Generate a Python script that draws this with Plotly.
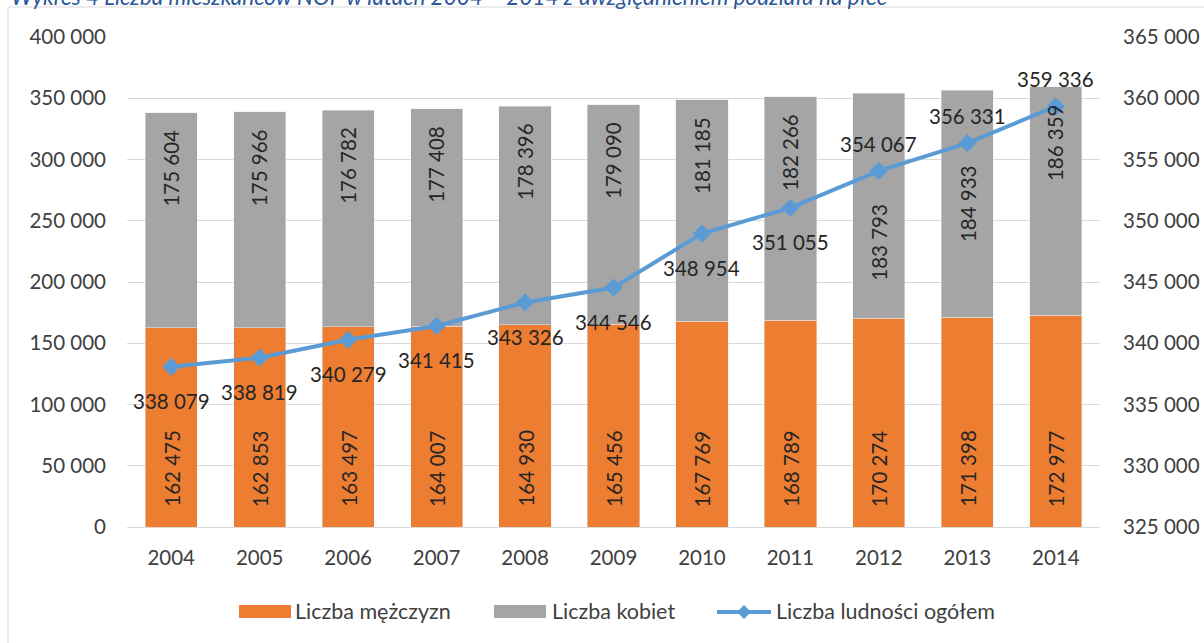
import plotly.graph_objects as go

years = ["2004", "2005", "2006", "2007", "2008", "2009", "2010", "2011", "2012", "2013", "2014"]
men = [162475, 162853, 163497, 164007, 164930, 165456, 167769, 168789, 170274, 171398, 172977]
women = [175604, 175966, 176782, 177408, 178396, 179090, 181185, 182266, 183793, 184933, 186359]
total = [338079, 338819, 340279, 341415, 343326, 344546, 348954, 351055, 354067, 356331, 359336]

# label placement (as in the source chart)
total_label_side = ["below"] * 8 + ["above"] * 3
women_label_place = ["end"] * 8 + ["low", "middle", "end"]

series_names = ["Liczba mężczyzn", "Liczba kobiet", "Liczba ludności ogółem"]
title_text = "Wykres 4 Liczba mieszkańców NOF w latach 2004 – 2014 z uwzględnieniem podziału na płeć"

ORANGE, GREY, BLUE = "#ED7D31", "#A5A5A5", "#5B9BD5"
TXT = "#404040"
LBL = "#262626"
FONT = "Lato"
FS = 20.5

def fmt(v):
    return f"{v:,}".replace(",", " ")

W, H = 1204, 643
L, R, T, B = 127, 104, 37, 116
pw, ph = W - L - R, H - T - B

def px_x(p):
    return (p - L) / pw

def px_y(p):
    return (H - B - p) / ph

fig = go.Figure()
fig.add_trace(go.Bar(x=years, y=men, name=series_names[0], marker_color=ORANGE,
                     showlegend=False, hoverinfo="y"))
fig.add_trace(go.Bar(x=years, y=women, name=series_names[1], marker_color=GREY,
                     showlegend=False, hoverinfo="y"))
fig.add_trace(go.Scatter(
    x=years, y=total, name=series_names[2], yaxis="y2", mode="lines+markers",
    line=dict(color=BLUE, width=4), marker=dict(symbol="diamond", size=14, color=BLUE),
    showlegend=False,
))

lblfont = dict(family=FONT, size=FS, color=LBL)

# men labels (inside base, rotated)
for i, v in enumerate(men):
    fig.add_annotation(x=i, y=0, xref="x", yref="y", text=fmt(v), textangle=-90,
                       yanchor="bottom", yshift=18, showarrow=False, font=lblfont)

# women labels
for i, (m, w, place) in enumerate(zip(men, women, women_label_place)):
    if place == "end":
        fig.add_annotation(x=i, y=m + w, xref="x", yref="y", text=fmt(w), textangle=-90,
                           yanchor="top", yshift=-15, showarrow=False, font=lblfont)
    else:
        fig.add_annotation(x=i, y=m + w / 2, xref="x", yref="y", text=fmt(w), textangle=-90,
                           yanchor="middle", yshift=(-36 if place == "low" else 0),
                           showarrow=False, font=lblfont)

# total labels
for i, (v, side) in enumerate(zip(total, total_label_side)):
    fig.add_annotation(x=i, xref="x", y=v, yref="y2", text=fmt(v), showarrow=False,
                       yshift=27 if side == "above" else -34, font=lblfont)

# clipped title at very top
fig.add_annotation(xref="paper", yref="paper", x=px_x(9), y=px_y(12),
                   xanchor="left", yanchor="bottom", text="<i>" + title_text + "</i>",
                   showarrow=False, font=dict(family=FONT, size=22.5, color="#2B579A"))

# chart border
fig.add_shape(type="rect", xref="paper", yref="paper",
              x0=px_x(8), x1=px_x(1215), y0=px_y(650), y1=px_y(7),
              line=dict(color="#D9D9D9", width=1), fillcolor="rgba(0,0,0,0)", layer="below")

# custom legend (wide swatches like the source)
leg_y = 611
legfont = dict(family=FONT, size=21.5, color=TXT)
fig.add_shape(type="rect", xref="paper", yref="paper", x0=px_x(239), x1=px_x(291),
              y0=px_y(618), y1=px_y(605), fillcolor=ORANGE, line=dict(width=0))
fig.add_annotation(xref="paper", yref="paper", x=px_x(293), y=px_y(leg_y), xanchor="left",
                   yanchor="middle", text=series_names[0], showarrow=False, font=legfont)
fig.add_shape(type="rect", xref="paper", yref="paper", x0=px_x(494), x1=px_x(546),
              y0=px_y(618), y1=px_y(605), fillcolor=GREY, line=dict(width=0))
fig.add_annotation(xref="paper", yref="paper", x=px_x(550), y=px_y(leg_y), xanchor="left",
                   yanchor="middle", text=series_names[1], showarrow=False, font=legfont)
fig.add_shape(type="line", xref="paper", yref="paper", x0=px_x(717), x1=px_x(771),
              y0=px_y(612), y1=px_y(612), line=dict(color=BLUE, width=4))
cx, cy, r = 744, 612, 7
fig.add_shape(type="path", xref="paper", yref="paper",
              path=f"M {px_x(cx - r)} {px_y(cy)} L {px_x(cx)} {px_y(cy - r)} L {px_x(cx + r)} {px_y(cy)} L {px_x(cx)} {px_y(cy + r)} Z",
              fillcolor=BLUE, line=dict(width=0))
fig.add_annotation(xref="paper", yref="paper", x=px_x(774), y=px_y(leg_y), xanchor="left",
                   yanchor="middle", text=series_names[2], showarrow=False, font=legfont)

fig.update_layout(
    width=W, height=H,
    margin=dict(l=L, r=R, t=T, b=B, autoexpand=False),
    barmode="stack", bargap=0.41,
    paper_bgcolor="white", plot_bgcolor="white",
    separators=", ",
    font=dict(family=FONT, size=FS, color=TXT),
    showlegend=False,
    xaxis=dict(type="category", range=[-0.5, len(years) - 0.5], autorange=False,
               showgrid=False, showline=True, linecolor="#D9D9D9", automargin=False,
               ticks="", tickfont=dict(size=FS, color=TXT), ticklabelstandoff=12),
    yaxis=dict(range=[0, 400000], dtick=50000, tickformat=",d", showgrid=True,
               gridcolor="#D9D9D9", gridwidth=1, zeroline=False, ticks="", automargin=False,
               tickfont=dict(size=FS, color=TXT), ticklabelstandoff=20),
    yaxis2=dict(range=[325000, 365000], dtick=5000, tickformat=",d", overlaying="y",
                side="right", showgrid=False, zeroline=False, ticks="", automargin=False,
                tickfont=dict(size=FS, color=TXT), ticklabelstandoff=22),
)

fig.write_html("out.html", config={"displayModeBar": False},
               post_script="document.body.style.margin='0';")
